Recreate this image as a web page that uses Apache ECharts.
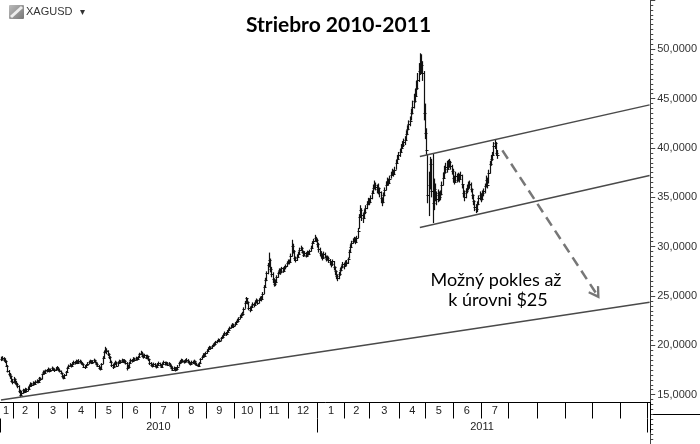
<!DOCTYPE html>
<html><head><meta charset="utf-8">
<script src="https://cdn.jsdelivr.net/npm/echarts@6/dist/echarts.min.js"></script>
<style>html,body{margin:0;padding:0;background:#fff}#c{width:700px;height:444px}</style>
</head><body><div id="c"></div>
<script>
// ---- data ----
const startDate = '2010-01-18';
const endDate = '2012-01-03';
const lastLabeledMonth = '2011-07';
const yearLabels = ['2010', '2011'];
const closes = [
18.62,18.70,18.55,18.40,17.95,17.40,17.05,16.85,16.40,16.30,
16.55,16.20,16.05,15.90,15.40,14.95,15.20,15.45,15.30,15.55,
15.40,15.60,15.85,16.10,15.95,16.20,16.05,16.25,16.40,16.30,
16.65,16.55,17.05,17.30,17.20,17.45,17.40,17.60,17.35,17.50,
17.70,17.55,17.45,17.65,17.75,17.50,17.40,17.20,16.85,16.70,
16.95,17.30,17.70,17.95,18.05,17.90,18.15,18.30,18.20,18.40,
18.25,18.45,18.35,18.20,18.10,17.85,17.80,18.00,18.15,18.30,
18.40,18.25,18.35,18.50,18.30,18.10,17.95,17.70,17.60,18.10,
18.75,19.30,19.55,19.40,19.10,18.80,18.35,18.00,17.80,18.10,
18.30,17.95,18.20,18.40,18.30,18.50,18.35,18.45,18.25,17.75,
17.85,18.20,18.50,18.40,18.65,18.55,18.70,18.60,18.80,19.10,
19.25,18.95,18.85,19.00,18.75,18.90,18.60,18.20,18.05,17.90,
18.10,17.95,17.80,18.05,18.20,18.00,17.85,18.15,18.30,18.10,
18.20,18.05,18.15,17.90,17.75,17.55,17.70,17.50,17.65,17.85,
18.20,18.35,18.50,18.40,18.30,18.45,18.55,18.35,18.20,18.10,
18.35,18.25,18.40,18.15,18.05,17.95,18.20,18.60,18.85,19.05,
18.95,19.20,19.45,19.65,19.80,19.70,19.90,20.05,20.15,20.30,
20.40,20.55,20.45,20.70,20.85,21.05,21.20,21.10,21.40,21.55,
21.75,21.90,22.05,21.95,22.20,22.35,22.50,22.70,22.90,23.05,
23.20,23.65,24.30,24.75,24.40,23.80,23.60,23.90,24.20,24.05,
24.40,24.55,24.30,24.60,24.80,24.70,25.20,25.90,26.60,27.30,
28.10,28.60,27.70,27.20,26.70,26.20,26.40,26.90,27.30,27.60,
27.40,27.80,27.55,27.90,28.00,28.30,28.55,28.40,29.10,30.10,
29.60,28.90,28.60,29.00,29.30,29.70,29.90,29.50,29.20,29.35,
29.10,29.40,29.30,29.55,29.90,30.40,30.60,30.85,30.70,30.30,
29.80,29.40,29.10,28.90,29.30,29.00,28.75,28.90,28.60,28.40,
28.20,28.50,27.90,27.50,27.00,26.80,27.20,27.60,27.90,28.20,
28.00,28.40,28.30,28.70,29.50,30.00,30.40,30.60,30.80,30.50,
30.90,31.60,33.00,33.70,33.20,32.90,33.50,33.90,34.30,34.60,
34.50,34.90,35.40,35.90,36.30,36.00,35.80,35.90,35.50,34.90,
34.50,35.20,35.70,36.30,36.70,36.50,36.90,37.30,37.60,37.40,
37.80,38.50,38.90,39.30,39.60,40.00,40.30,40.60,40.80,41.40,
41.90,42.40,42.70,43.50,44.20,44.80,45.30,46.10,46.90,47.80,
48.60,48.40,47.60,43.50,41.50,39.80,35.20,36.30,38.40,35.60,
34.40,35.80,35.20,34.80,35.40,35.00,35.30,36.20,37.00,37.60,
38.10,37.90,38.40,38.60,38.20,37.70,37.00,36.60,37.20,36.80,
37.10,36.90,37.30,36.40,35.40,35.00,35.60,35.90,36.20,36.40,
35.80,35.20,34.60,34.00,33.80,34.30,34.90,35.20,34.80,35.40,
35.60,36.10,36.80,36.30,37.50,38.40,38.90,39.30,40.20,40.50,
39.50,39.30];
const highs = [
18.85,18.90,18.80,18.70,18.45,18.00,17.50,17.20,16.95,16.60,
16.80,16.65,16.40,16.20,15.95,15.50,15.40,15.60,15.55,15.70,
15.65,15.80,16.00,16.25,16.20,16.35,16.30,16.45,16.55,16.50,
16.80,16.75,17.15,17.45,17.40,17.55,17.60,17.75,17.65,17.65,
17.85,17.75,17.65,17.80,17.90,17.80,17.60,17.45,17.25,16.95,
17.10,17.40,17.80,18.05,18.20,18.10,18.30,18.45,18.40,18.55,
18.50,18.60,18.55,18.45,18.30,18.15,18.00,18.10,18.30,18.45,
18.55,18.50,18.50,18.65,18.55,18.35,18.20,18.00,17.85,18.20,
18.90,19.45,19.85,19.70,19.50,19.20,18.90,18.45,18.15,18.25,
18.45,18.35,18.35,18.55,18.50,18.65,18.60,18.60,18.50,18.30,
18.05,18.35,18.65,18.60,18.80,18.75,18.85,18.80,18.95,19.25,
19.45,19.35,19.10,19.15,19.05,19.05,18.95,18.65,18.30,18.15,
18.25,18.20,18.05,18.20,18.35,18.25,18.10,18.25,18.45,18.35,
18.35,18.30,18.30,18.20,18.00,17.85,17.85,17.80,17.80,18.00,
18.35,18.50,18.65,18.60,18.50,18.60,18.70,18.60,18.45,18.30,
18.45,18.45,18.55,18.45,18.25,18.15,18.30,18.70,18.95,19.20,
19.20,19.35,19.60,19.80,19.95,19.90,20.05,20.20,20.30,20.45,
20.55,20.70,20.65,20.85,21.00,21.20,21.40,21.35,21.55,21.70,
21.90,22.10,22.25,22.20,22.35,22.50,22.70,22.85,23.10,23.25,
23.40,23.85,24.50,24.90,24.80,24.45,23.95,24.05,24.35,24.30,
24.55,24.75,24.65,24.75,24.95,25.00,25.40,26.10,26.85,27.50,
28.35,29.40,28.80,27.95,27.40,26.80,26.65,27.10,27.50,27.80,
27.75,27.95,27.90,28.05,28.20,28.50,28.70,28.70,29.30,30.70,
30.30,29.65,29.00,29.20,29.50,29.90,30.10,29.95,29.60,29.55,
29.45,29.60,29.55,29.70,30.10,30.55,30.80,31.20,31.00,30.80,
30.40,29.90,29.55,29.30,29.50,29.40,29.10,29.10,29.00,28.75,
28.55,28.70,28.55,28.00,27.60,27.20,27.45,27.85,28.10,28.45,
28.35,28.60,28.65,28.90,29.70,30.25,30.60,30.85,31.00,30.95,
31.10,31.90,33.30,34.20,33.90,33.40,33.80,34.20,34.60,34.95,
34.90,35.20,35.70,36.30,36.70,36.50,36.30,36.40,36.00,35.60,
35.00,35.50,36.00,36.60,37.00,36.90,37.20,37.60,37.90,37.80,
38.10,38.80,39.30,39.60,39.90,40.40,40.70,40.95,41.20,41.80,
42.30,42.80,43.20,44.00,44.80,45.50,46.00,46.80,47.60,48.60,
49.60,49.50,48.80,47.80,44.50,42.00,39.40,37.60,39.10,38.90,
39.40,36.90,36.40,35.60,35.80,35.60,35.70,36.60,37.50,38.20,
38.50,38.70,38.80,38.90,38.70,38.30,37.90,37.20,37.60,37.40,
37.50,37.40,37.60,37.30,36.30,35.70,35.90,36.30,36.60,36.70,
36.50,35.90,35.30,34.70,34.30,34.60,35.20,35.60,35.40,35.70,
35.90,36.40,37.20,37.00,37.80,38.70,39.30,39.60,40.60,40.90,
40.60,39.80];
const lows = [
18.40,18.45,18.35,18.20,17.80,17.25,16.90,16.60,16.25,16.05,
16.20,16.05,15.90,15.65,15.15,14.75,14.90,15.10,15.15,15.25,
15.25,15.35,15.55,15.80,15.80,15.90,15.95,16.00,16.15,16.15,
16.30,16.40,16.55,17.00,17.05,17.15,17.25,17.35,17.25,17.30,
17.45,17.45,17.30,17.40,17.55,17.40,17.25,17.05,16.70,16.55,
16.65,16.90,17.25,17.65,17.85,17.75,17.90,18.10,18.05,18.15,
18.10,18.20,18.20,18.05,17.95,17.70,17.60,17.75,17.95,18.10,
18.20,18.10,18.15,18.30,18.15,17.95,17.80,17.55,17.45,17.60,
18.10,18.70,19.20,19.10,18.90,18.60,18.20,17.80,17.60,17.75,
18.00,17.80,17.90,18.15,18.15,18.25,18.20,18.25,18.05,17.45,
17.60,17.80,18.15,18.25,18.35,18.40,18.45,18.45,18.55,18.80,
19.00,18.80,18.65,18.75,18.60,18.65,18.40,18.00,17.85,17.75,
17.85,17.80,17.65,17.75,17.95,17.85,17.70,17.80,18.05,17.95,
18.00,17.90,17.95,17.75,17.55,17.40,17.45,17.35,17.40,17.60,
17.85,18.10,18.25,18.25,18.15,18.20,18.30,18.20,18.05,17.95,
18.05,18.10,18.15,18.00,17.90,17.80,17.90,18.15,18.55,18.80,
18.80,18.95,19.15,19.40,19.55,19.55,19.65,19.85,19.95,20.10,
20.20,20.35,20.30,20.45,20.65,20.80,21.00,20.95,21.10,21.30,
21.50,21.70,21.85,21.75,21.95,22.10,22.30,22.45,22.65,22.85,
22.95,23.20,23.70,24.30,24.15,23.55,23.35,23.50,23.85,23.85,
24.05,24.30,24.10,24.25,24.50,24.45,24.70,25.20,25.85,26.50,
27.20,27.90,27.40,26.90,26.30,25.95,26.00,26.30,26.85,27.20,
27.15,27.30,27.35,27.50,27.70,27.95,28.20,28.20,28.40,29.00,
29.30,28.55,28.40,28.55,28.90,29.20,29.55,29.30,28.95,29.00,
28.90,29.00,29.10,29.25,29.50,29.85,30.30,30.50,30.45,29.90,
29.40,29.05,28.80,28.60,28.85,28.80,28.50,28.60,28.35,28.10,
27.90,28.05,27.60,27.10,26.70,26.50,26.70,27.05,27.50,27.80,
27.70,27.95,28.05,28.25,28.80,29.40,29.90,30.30,30.45,30.25,
30.40,30.85,31.80,32.90,32.60,32.40,32.80,33.30,33.80,34.20,
34.20,34.40,34.80,35.40,35.80,35.70,35.40,35.30,35.00,34.40,
34.10,34.40,35.10,35.70,36.20,36.20,36.40,36.90,37.20,37.10,
37.30,37.80,38.40,38.80,39.10,39.50,39.90,40.10,40.30,40.80,
41.30,41.80,42.20,42.80,43.40,44.00,44.60,45.20,45.90,46.70,
47.40,47.50,46.80,42.80,40.90,39.30,34.40,33.10,35.80,35.00,
32.40,33.70,34.60,34.20,34.50,34.60,34.70,35.20,36.20,36.90,
37.40,37.50,37.80,38.00,37.80,37.30,36.50,36.30,36.50,36.50,
36.60,36.50,36.80,35.90,35.00,34.60,34.90,35.40,35.70,35.90,
35.50,34.80,34.20,33.60,33.40,33.50,34.20,34.70,34.50,34.70,
35.10,35.40,36.00,35.90,36.40,37.40,38.20,38.70,39.20,39.90,
39.20,38.90];
// trend lines: [trading-day index, price]
const supportLine = [[0, 14.47], [511, 24.37]];
const channelTop = [[330, 39.13], [511, 44.37]];
const channelBottom = [[330, 31.95], [511, 37.22]];
const forecastArrow = [[395, 39.76], [469, 25.24]];

// ---- categories (weekdays) ----
const cats = [];
for (let d = new Date(startDate + 'T00:00:00Z'); d <= new Date(endDate + 'T00:00:00Z'); d.setUTCDate(d.getUTCDate() + 1)) {
  const w = d.getUTCDay();
  if (w === 0 || w === 6) continue;
  cats.push(d.toISOString().slice(0, 10));
}
const monthKey = i => cats[i].slice(0, 7);
const monthStart = new Set(), monthMid = new Set();
const yearStart = new Set([0]), yearMid = new Set();
{
  let s = 0;
  for (let i = 1; i <= cats.length; i++) {
    if (i === cats.length || monthKey(i) !== monthKey(i - 1)) {
      if (i < cats.length) monthStart.add(i);
      if (monthKey(s) <= lastLabeledMonth) monthMid.add(Math.floor((s + i - 1) / 2));
      s = i;
    }
  }
  let ys = 0;
  for (let i = 1; i <= cats.length; i++) {
    if (i === cats.length || cats[i].slice(0, 4) !== cats[i - 1].slice(0, 4)) {
      if (i < cats.length) yearStart.add(i);
      if (yearLabels.indexOf(cats[ys].slice(0, 4)) >= 0) yearMid.add(Math.floor((ys + i - 1) / 2));
      ys = i;
    }
  }
}
const bars = closes.map((c, i) => [i, highs[i], lows[i], c]);

const FONT = '"Liberation Sans", Arial, sans-serif';
const chart = echarts.init(document.getElementById('c'), null, {renderer: 'canvas'});
const gridTop = -16.8, gridBottomPx = 455.8;
const axisY = 414.3;
chart.setOption({
  animation: false,
  backgroundColor: '#fff',
  grid: {left: 0, right: 49.3, top: gridTop, bottom: 444 - gridBottomPx, containLabel: false},
  xAxis: [{
    type: 'category', data: cats, boundaryGap: true, position: 'bottom',
    offset: axisY - gridBottomPx,
    axisLine: {show: true, onZero: false, lineStyle: {color: '#000', width: 1}},
    axisTick: {show: true, length: 16, inside: false, interval: (i) => monthStart.has(i), lineStyle: {color: '#000'}},
    axisLabel: {show: true, interval: (i) => monthMid.has(i), margin: 3, fontSize: 11, fontFamily: FONT, color: '#222',
      formatter: (v) => String(parseInt(v.slice(5, 7), 10))},
    splitLine: {show: false}
  }, {
    type: 'category', data: cats, boundaryGap: true, position: 'bottom',
    offset: axisY + 16 - gridBottomPx,
    axisLine: {show: false, onZero: false},
    axisTick: {show: true, length: 14, inside: false, interval: (i) => yearStart.has(i), lineStyle: {color: '#000'}},
    axisLabel: {show: true, interval: (i) => yearMid.has(i), margin: 3, fontSize: 11, fontFamily: FONT, color: '#222',
      formatter: (v) => v.slice(0, 4)},
    splitLine: {show: false}
  }],
  yAxis: {
    type: 'value', position: 'right', min: 10, max: 55, interval: 5, scale: false,
    axisLine: {show: true, lineStyle: {color: '#444', width: 1}},
    axisTick: {show: true, length: 5, inside: false, lineStyle: {color: '#444'}},
    minorTick: {show: true, splitNumber: 10, length: 3, lineStyle: {color: '#444', width: 1}},
    axisLabel: {margin: 7, fontSize: 11, fontFamily: FONT, color: '#333',
      formatter: (v) => (v >= 15 && v <= 50) ? v.toFixed(4).replace('.', ',') : ''},
    splitLine: {show: false}
  },
  series: [{
    type: 'custom', name: 'XAGUSD', xAxisIndex: 0,
    data: bars,
    encode: {x: 0, y: [1, 2, 3]},
    renderItem: function (params, api) {
      const i = api.value(0);
      const hi = api.coord([i, api.value(1)]);
      const lo = api.coord([i, api.value(2)]);
      const cl = api.coord([i, api.value(3)]);
      const x = Math.round(hi[0]) + 0.5;
      const cy = Math.round(cl[1]) + 0.5;
      return {type: 'group', children: [
        {type: 'line', shape: {x1: x, y1: hi[1], x2: x, y2: lo[1]}, style: {stroke: '#111', lineWidth: 1.2}},
        {type: 'line', shape: {x1: x - 1, y1: cy, x2: x + 2, y2: cy}, style: {stroke: '#111', lineWidth: 1}}
      ]};
    }
  }, {
    type: 'line', xAxisIndex: 0, data: [], silent: true,
    markLine: {
      silent: true, symbol: ['none', 'none'], label: {show: false}, animation: false,
      lineStyle: {color: '#4a4a4a', width: 1.5, type: 'solid'},
      data: [
        [{coord: supportLine[0]}, {coord: supportLine[1]}],
        [{coord: channelTop[0]}, {coord: channelTop[1]}],
        [{coord: channelBottom[0]}, {coord: channelBottom[1]}],
        [{coord: forecastArrow[0], symbol: 'none'},
         {coord: forecastArrow[1], symbol: 'path://M5,0 L10,8 L8.6,9 L5,3.4 L1.4,9 L0,8 Z', symbolSize: [13, 12],
          lineStyle: {color: '#777', width: 2.5, type: [10, 6]}}]
      ]
    }
  }],
  graphic: [
    {type: 'line', shape: {x1: 651, y1: 414.5, x2: 700, y2: 414.5}, style: {stroke: '#000', lineWidth: 1}, silent: true},
    {type: 'rect', shape: {x: 9, y: 5, width: 15, height: 14, r: 1},
      style: {fill: new echarts.graphic.LinearGradient(0, 0, 1, 1, [{offset: 0, color: '#bbb'}, {offset: 1, color: '#777'}])}},
    {type: 'line', shape: {x1: 11, y1: 17, x2: 22, y2: 7}, style: {stroke: '#eee', lineWidth: 3}},
    {type: 'text', x: 26, y: 12, style: {text: 'XAGUSD', font: '11px ' + FONT, fill: '#333', align: 'left', verticalAlign: 'middle'}},
    {type: 'text', x: 80, y: 12, style: {text: '\u25BE', font: '10px "DejaVu Sans"', fill: '#333', align: 'left', verticalAlign: 'middle'}},
    {type: 'text', x: 338.5, y: 25, style: {text: 'Striebro 2010-2011', font: 'bold 21px Lato', fill: '#000', align: 'center', verticalAlign: 'middle'}},
    {type: 'text', x: 496, y: 280, style: {text: 'Možný pokles až', font: '18px Lato', fill: '#000', align: 'center', verticalAlign: 'middle'}},
    {type: 'text', x: 498, y: 300, style: {text: 'k úrovni $25', font: '18px Lato', fill: '#000', align: 'center', verticalAlign: 'middle'}}
  ]
});
</script>
</body></html>
